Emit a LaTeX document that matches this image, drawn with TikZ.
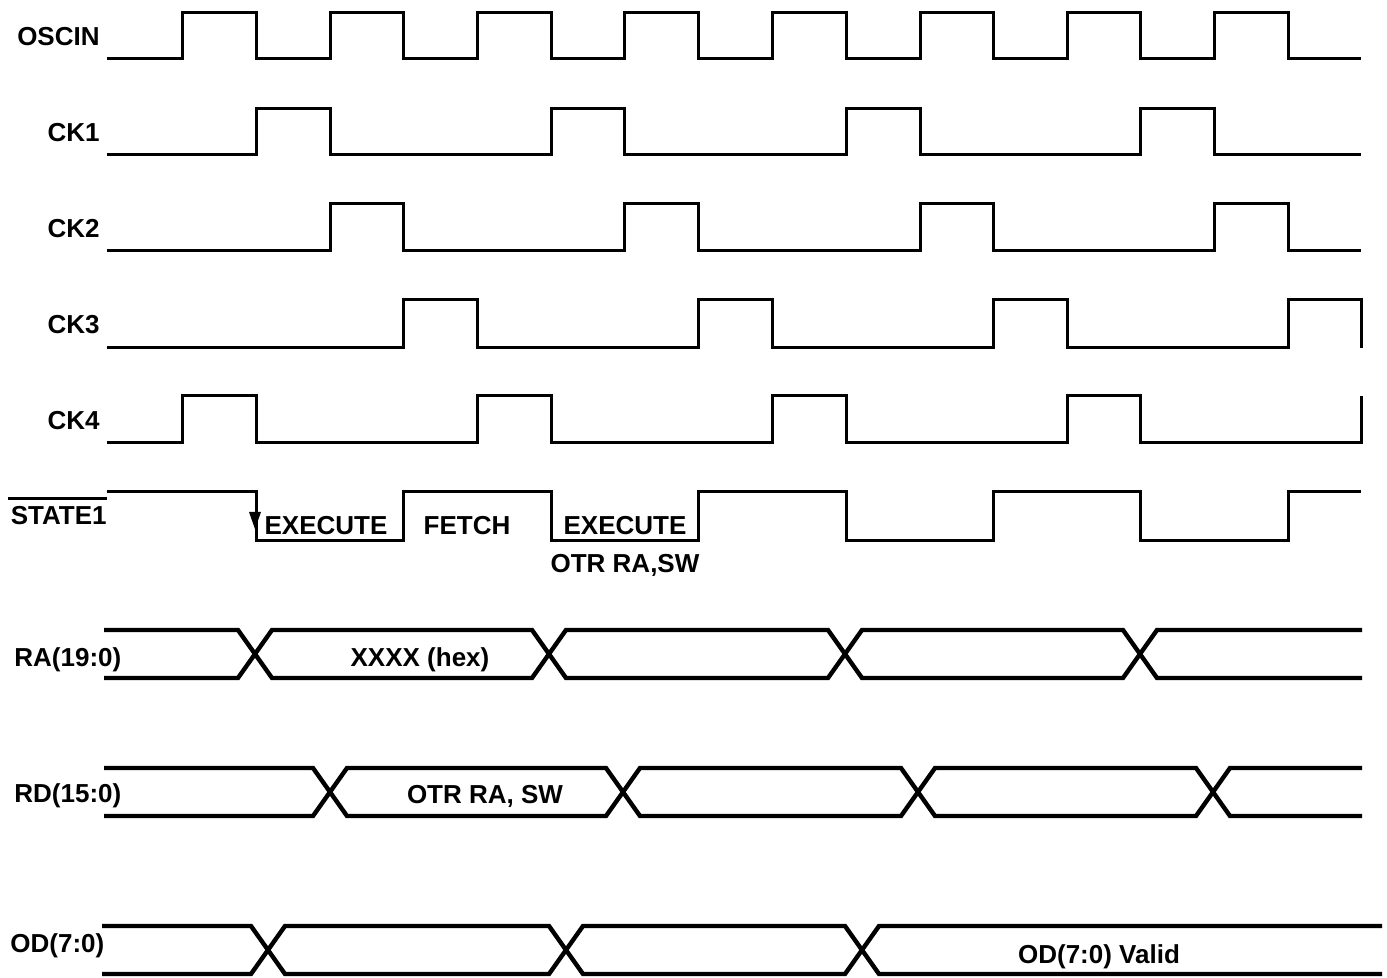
\documentclass[tikz,border=0pt]{standalone}
\usepackage{fontspec}
\setmainfont{Liberation Sans}
\usetikzlibrary{arrows.meta}

\begin{document}
\begin{tikzpicture}[x=0.5pt, y=-0.5pt, font=\fontsize{13}{15}\selectfont\bfseries, clock/.style={line width=1.5pt, line join=miter}, bus/.style={line width=2.2pt, line join=miter}, sig label/.style={anchor=east, inner sep=0pt}, bus label/.style={anchor=west, inner sep=0pt}, phase/.style={inner sep=0pt}]

    \useasboundingbox (0,0) rectangle (1387,978);

    % =========================================================================
    % Relojes
    % =========================================================================
    \node[sig label] (oscin) at (100,37) {OSCIN};
    \draw[clock] (107,59) -- (182,59) -- (182,13) -- (256,13) -- (256,59) -- (330,59) -- (330,13) -- (403,13) -- (403,59) -- (477,59) -- (477,13) -- (551,13) -- (551,59) -- (624,59) -- (624,13) -- (698,13) -- (698,59) -- (772,59) -- (772,13) -- (846,13) -- (846,59) -- (920,59) -- (920,13) -- (993,13) -- (993,59) -- (1067,59) -- (1067,13) -- (1140,13) -- (1140,59) -- (1214,59) -- (1214,13) -- (1288,13) -- (1288,59) -- (1361,59);

    \node[sig label] (ck1) at (100,133) {CK1};
    \draw[clock] (107,155) -- (256,155) -- (256,109) -- (330,109) -- (330,155) -- (551,155) -- (551,109) -- (624,109) -- (624,155) -- (846,155) -- (846,109) -- (920,109) -- (920,155) -- (1140,155) -- (1140,109) -- (1214,109) -- (1214,155) -- (1361,155);

    \node[sig label] (ck2) at (100,229) {CK2};
    \draw[clock] (107,251) -- (330,251) -- (330,204) -- (403,204) -- (403,251) -- (624,251) -- (624,204) -- (698,204) -- (698,251) -- (920,251) -- (920,204) -- (993,204) -- (993,251) -- (1214,251) -- (1214,204) -- (1288,204) -- (1288,251) -- (1361,251);

    \node[sig label] (ck3) at (100,325) {CK3};
    \draw[clock] (107,348) -- (403,348) -- (403,300) -- (477,300) -- (477,348) -- (698,348) -- (698,300) -- (772,300) -- (772,348) -- (993,348) -- (993,300) -- (1067,300) -- (1067,348) -- (1288,348) -- (1288,300) -- (1361,300) -- (1361,348);

    \node[sig label] (ck4) at (100,421) {CK4};
    \draw[clock] (107,443) -- (182,443) -- (182,396) -- (256,396) -- (256,443) -- (477,443) -- (477,396) -- (551,396) -- (551,443) -- (772,443) -- (772,396) -- (846,396) -- (846,443) -- (1067,443) -- (1067,396) -- (1140,396) -- (1140,443) -- (1361,443) -- (1361,396);

    % =========================================================================
    % STATE1 (activa en bajo)
    % =========================================================================
    \node[sig label] (state) at (107,516) {STATE1};
    \draw[line width=1.2pt] ([xshift=-1pt, yshift=4pt]state.north west) -- ([yshift=4pt]state.north east);
    \draw[clock] (107,492) -- (256,492) -- (256,540) -- (403,540) -- (403,492) -- (551,492) -- (551,540) -- (698,540) -- (698,492) -- (846,492) -- (846,540) -- (993,540) -- (993,492) -- (1140,492) -- (1140,540) -- (1288,540) -- (1288,492) -- (1361,492);
    \fill (249,512) -- (261,512) -- (255,529) -- cycle; % flanco de bajada

    \node[phase] (exec1) at (326,526) {EXECUTE};
    \node[phase] (fetch) at (467,526) {FETCH};
    \node[phase] (exec2) at (625,526) {EXECUTE};
    \node[phase] (otr1) at (625,565) {OTR RA,SW};

    % =========================================================================
    % Buses
    % =========================================================================
    \node[bus label] (ra) at (14,660) {RA(19:0)};
    \draw[bus] (104,630) -- (238,630) -- (272,678) -- (532,678) -- (566,630) -- (828,630) -- (862,678) -- (1123,678) -- (1157,630) -- (1362,630);
    \draw[bus] (104,678) -- (238,678) -- (272,630) -- (532,630) -- (566,678) -- (828,678) -- (862,630) -- (1123,630) -- (1157,678) -- (1362,678);
    \node[phase] (hex) at (420,660) {XXXX (hex)};

    \node[bus label] (rd) at (14,796) {RD(15:0)};
    \draw[bus] (104,768) -- (313,768) -- (347,816) -- (606,816) -- (640,768) -- (901,768) -- (935,816) -- (1196,816) -- (1230,768) -- (1362,768);
    \draw[bus] (104,816) -- (313,816) -- (347,768) -- (606,768) -- (640,816) -- (901,816) -- (935,768) -- (1196,768) -- (1230,816) -- (1362,816);
    \node[phase] (otr2) at (485,796) {OTR RA, SW};

    \node[bus label] (od) at (10,946) {OD(7:0)};
    \draw[bus] (102,926) -- (251,926) -- (285,974) -- (549,974) -- (583,926) -- (845,926) -- (879,974) -- (1382,974);
    \draw[bus] (102,974) -- (251,974) -- (285,926) -- (549,926) -- (583,974) -- (845,974) -- (879,926) -- (1382,926);
    \node[phase] (valid) at (1099,957) {OD(7:0) Valid};

\end{tikzpicture}
\end{document}
